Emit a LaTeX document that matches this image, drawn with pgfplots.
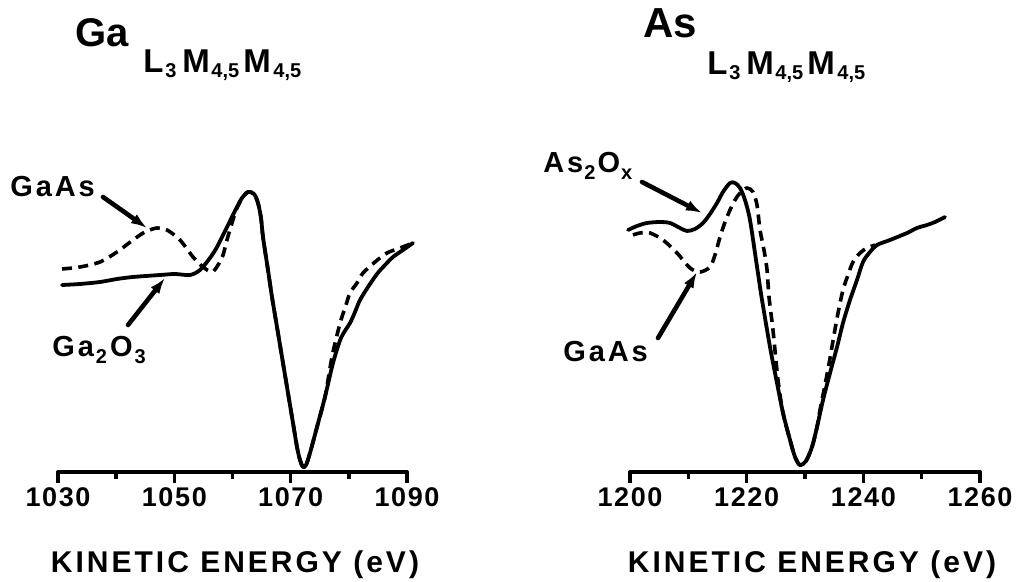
\documentclass[border=0pt]{standalone}
\usepackage{fontspec}
\setmainfont{Liberation Sans}
\newfontfamily\trk[LetterSpace=6]{Liberation Sans}
\newfontfamily\trkb[LetterSpace=10]{Liberation Sans}
\newfontfamily\lbl[LetterSpace=10]{Liberation Sans}
\usepackage{pgfplots}
\pgfplotsset{compat=1.18}
\usetikzlibrary{arrows.meta}
\newcommand\fs[1]{\fontsize{#1}{#1}\selectfont}
\newcommand\sbx[1]{\raisebox{-3.5pt}{\fs{10}#1}}
\newcommand\LMM{\fs{16.5}\bfseries\makebox[11pt][l]{L}\makebox[8.5pt][l]{\raisebox{-2.5pt}{\fs{10}3}}\makebox[14.5pt][l]{M}\makebox[16pt][l]{\raisebox{-2.5pt}{\fs{10}4,5}}\makebox[15pt][l]{M}\raisebox{-2.5pt}{\fs{10}4,5}}
\newcommand\tl[1]{\mbox{\trk\bfseries\fs{13.5}#1}}
\begin{document}
\begin{tikzpicture}[x=0.5pt,y=0.5pt]
\useasboundingbox (0,0) rectangle (1020,582);
\pgfplotsset{
  myax/.style={anchor=south west, scale only axis, height=170pt,
    ymin=110, ymax=450, hide y axis, axis x line*=bottom,
    axis line style={-}, x axis line style={line width=2pt, line cap=round},
    xtick align=outside, major tick length=5.5pt, minor tick length=3.5pt,
    tick style={line width=1.7pt, black}, clip=false,
    xticklabel style={inner sep=2pt}},
  solidc/.style={black, line width=1.9pt, smooth, line cap=round, line join=round},
  dashc/.style={black, line width=1.8pt, smooth, dash pattern=on 5pt off 3.2pt}
}
\begin{axis}[myax, at={(29pt,55pt)}, width=174.5pt, xmin=1030, xmax=1090,
  xtick={1030,1050,1070,1090}, xticklabels={\tl{1030},\tl{1050},\tl{1070},\tl{1090}},
  minor xtick={1040,1060,1080}]
\addplot[dashc] coordinates {
(1030.69,313) (1033.78,315) (1037.22,320) (1040.14,330) (1042.89,342) (1044.96,350)
(1047.02,354) (1048.74,352) (1050.97,342) (1053.21,325) (1054.93,315) (1056.48,310)
(1057.51,317) (1058.37,327) (1059.05,342) (1059.91,359) (1060.77,374) (1061.81,385)
(1062.66,390) (1063.70,388) (1064.38,379) (1064.90,364) (1065.24,345) (1066.10,312)
(1066.79,285) (1067.65,255) (1068.68,219) (1070.40,159) (1071.09,135) (1071.60,122)
(1072.12,115) (1072.64,117) (1073.32,129) (1074.53,155) (1075.90,185) (1076.76,214)
(1077.28,230) (1077.97,247) (1078.65,262) (1079.51,277) (1080.20,289) (1081.40,299)
(1082.44,309) (1084.50,320) (1086.56,329) (1088.80,334) (1091.03,339)};
\addplot[solidc] coordinates {
(1030.69,297) (1033.78,298) (1037.22,300) (1040.14,303) (1042.89,305) (1047.54,307)
(1050.11,308) (1052.69,307) (1054.41,312) (1056.13,324) (1057.34,335) (1058.54,349)
(1059.57,361) (1060.77,375) (1061.63,384) (1062.66,390) (1063.70,388) (1064.38,379)
(1064.90,364) (1065.24,345) (1066.10,312) (1066.79,285) (1067.65,255) (1068.68,219)
(1070.40,159) (1071.09,135) (1071.60,122) (1072.12,115) (1072.64,117) (1073.32,129)
(1074.53,155) (1075.90,185) (1077.28,219) (1078.65,244) (1080.20,259) (1081.06,270)
(1081.92,282) (1083.30,295) (1084.84,308) (1086.22,317) (1087.59,325) (1089.31,332)
(1091.03,339)};
\end{axis}
\begin{axis}[myax, at={(315pt,55pt)}, width=175pt, xmin=1200, xmax=1260,
  xtick={1200,1220,1240,1260}, xticklabels={\tl{1200},\tl{1220},\tl{1240},\tl{1260}},
  minor xtick={1210,1230,1250}]
\addplot[dashc] coordinates {
(1200.51,347) (1201.71,349) (1203.43,349) (1205.66,342) (1208.06,329) (1210.29,314)
(1212.00,310) (1213.71,315) (1214.57,327) (1215.43,345) (1216.29,360) (1217.14,372)
(1218.00,382) (1218.86,389) (1220.06,394) (1221.09,390) (1221.77,377) (1222.29,352)
(1222.97,332) (1223.49,312) (1223.83,285) (1224.51,252) (1225.37,202) (1226.23,169)
(1227.43,142) (1228.29,125) (1229.14,117) (1230.17,121) (1231.20,135) (1232.06,155)
(1232.57,172) (1233.43,197) (1234.29,224) (1234.97,247) (1235.66,269) (1236.51,292)
(1237.37,307) (1238.23,320) (1239.43,329) (1240.63,334) (1242.00,337)};
\addplot[solidc] coordinates {
(1199.66,352) (1201.20,356) (1202.91,359) (1205.14,360) (1206.86,359) (1208.57,354)
(1209.77,351) (1211.14,353) (1212.51,359) (1213.71,368) (1214.91,379) (1215.94,390)
(1217.14,399) (1218.00,399) (1218.86,394) (1219.71,382) (1220.57,362) (1221.60,322)
(1222.11,302) (1222.63,282) (1224.00,235) (1225.20,199) (1226.23,169) (1227.43,142)
(1228.29,125) (1229.14,117) (1230.17,121) (1231.20,135) (1232.06,155) (1233.09,182)
(1234.29,209) (1235.49,235) (1236.51,259) (1237.71,282) (1238.91,302) (1239.94,320)
(1241.14,330) (1242.34,337) (1244.57,342) (1247.49,349) (1249.20,354) (1250.91,357)
(1252.29,360) (1254.00,365)};
\end{axis}
% titles
\node[anchor=base west, inner sep=0] at (75,535) {\fs{20}\bfseries Ga};
\node[anchor=base west, inner sep=0] at (143,509) {\LMM};
\node[anchor=base west, inner sep=0] at (643,544) {\fs{21}\bfseries As};
\node[anchor=base west, inner sep=0] at (707,507) {\LMM};
% annotations
\tikzset{ann/.style={line width=2.3pt, line cap=round, -{Latex[length=8pt,width=5.5pt]}}}
\node[anchor=base west, inner sep=0] at (10,385) {\lbl\bfseries\fs{14.5}GaAs};
\draw[ann] (103,385) -- (147,354);
\node[anchor=base west, inner sep=0] at (52,225) {\lbl\bfseries\fs{14.5}Ga\kern1pt\sbx{2}\kern1.5pt O\kern1pt\sbx{3}};
\draw[ann] (128,257) -- (165,304);
\node[anchor=base west, inner sep=0] at (543,409) {\lbl\bfseries\fs{14.5}As\kern0.5pt\sbx{2}\kern1pt O\kern0.5pt\sbx{x}};
\draw[ann] (642,400) -- (702,369);
\node[anchor=base west, inner sep=0] at (563,220) {\lbl\bfseries\fs{14.5}GaAs};
\draw[ann] (658,244) -- (697,310);
% x labels
\node[anchor=base, inner sep=0] at (235,10) {\trkb\bfseries\fs{15}KINETIC ENERGY (eV)};
\node[anchor=base, inner sep=0] at (812,10) {\trkb\bfseries\fs{15}KINETIC ENERGY (eV)};
\end{tikzpicture}
\end{document}
